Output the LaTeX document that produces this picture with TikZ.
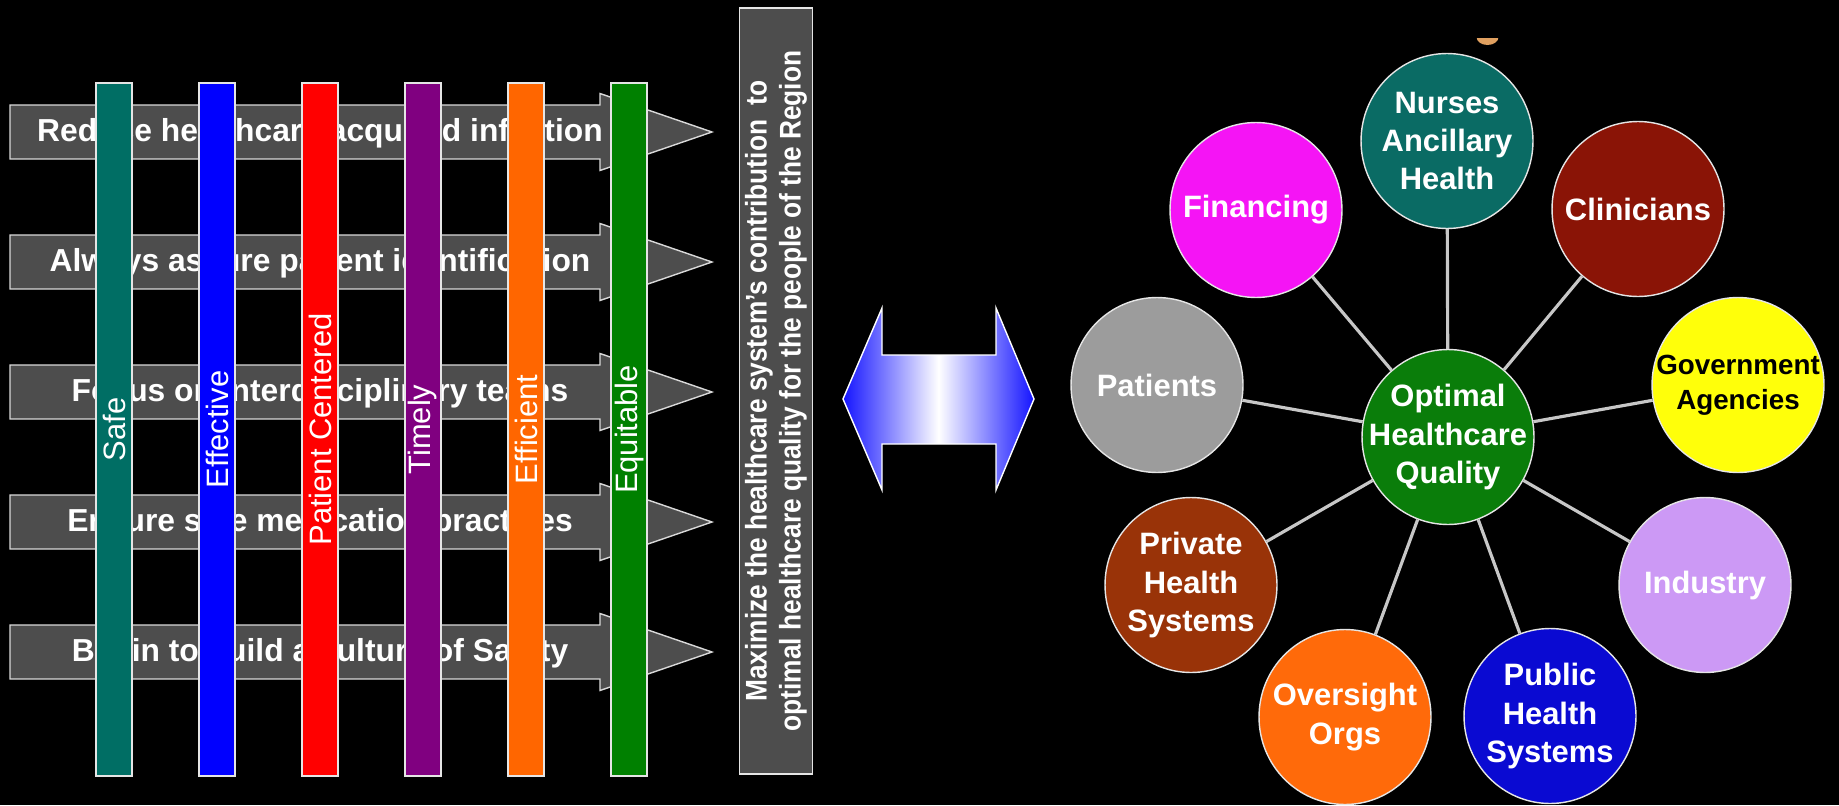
\documentclass[tikz,border=0pt]{standalone}
\usepackage{fontspec}
\setmainfont{Liberation Sans}
\newfontfamily\narrowsans[FakeStretch=0.88]{Liberation Sans}
\usetikzlibrary{shapes.geometric}

\definecolor{bandgray}{HTML}{4D4D4D}
\definecolor{safec}{HTML}{006E64}
\definecolor{effc}{HTML}{0000FF}
\definecolor{patc}{HTML}{FF0000}
\definecolor{timec}{HTML}{800080}
\definecolor{efficc}{HTML}{FF6600}
\definecolor{equc}{HTML}{008000}
\definecolor{arrowblue}{HTML}{1414FF}
\definecolor{hubc}{HTML}{0A7D0A}
\definecolor{nursec}{HTML}{0A6B64}
\definecolor{financec}{HTML}{F514F5}
\definecolor{clinc}{HTML}{8A1406}
\definecolor{patientc}{HTML}{9C9C9C}
\definecolor{govc}{HTML}{FFFF0A}
\definecolor{privc}{HTML}{993308}
\definecolor{indc}{HTML}{CC99F5}
\definecolor{overc}{HTML}{FF6A0A}
\definecolor{pubc}{HTML}{0A0AD2}
\definecolor{blobc}{HTML}{E0A060}

\begin{document}
\begin{tikzpicture}[
    x=0.02cm, y=-0.02cm,
    band/.style={draw=white!85!black, line width=0.8pt, fill=bandgray},
    bandtext/.style={text=white, font=\fontsize{18.1}{21}\selectfont\bfseries},
    pillar/.style={rectangle, rotate=90, draw=white!90!black, line width=0.8pt, minimum width=13.86cm, minimum height=0.72cm, inner sep=0pt, text=white, font=\fontsize{17.6}{21}\selectfont},
    goal/.style={rectangle, rotate=90, draw=white!90!black, line width=0.8pt, fill=bandgray, minimum width=15.32cm, minimum height=1.46cm, inner sep=0pt, align=center, text=white, font=\narrowsans\fontsize{17}{19.3}\selectfont\bfseries},
    actor/.style={ellipse, draw=white!80!gray, line width=0.8pt, minimum width=3.44cm, minimum height=3.5cm, inner sep=-2cm, align=center, text=white, font=\fontsize{17.6}{21.8}\selectfont\bfseries},
    spoke/.style={line width=1.8pt, draw=white!78!black}
]
\useasboundingbox[fill=black] (0,0) rectangle (1839,805);

\draw[band] (10,105) -- (600,105) -- (600,93.5) -- (712,132) -- (600,170.5) -- (600,159) -- (10,159) -- cycle;
\draw[band] (10,235) -- (600,235) -- (600,223.5) -- (712,262) -- (600,300.5) -- (600,289) -- (10,289) -- cycle;
\draw[band] (10,365) -- (600,365) -- (600,353.5) -- (712,392) -- (600,430.5) -- (600,419) -- (10,419) -- cycle;
\draw[band] (10,495) -- (600,495) -- (600,483.5) -- (712,522) -- (600,560.5) -- (600,549) -- (10,549) -- cycle;
\draw[band] (10,625) -- (600,625) -- (600,613.5) -- (712,652) -- (600,690.5) -- (600,679) -- (10,679) -- cycle;

\node[bandtext] (infection) at (320,133) {Reduce healthcare acquired infection};
\node[bandtext] (identity) at (320,263) {Always assure patient identification};
\node[bandtext] (teams) at (320,393) {Focus on interdisciplinary teams};
\node[bandtext] (medication) at (320,523) {Ensure safe medication practices};
\node[bandtext] (culture) at (320,653) {Begin to build a culture of Safety};

\node[pillar, fill=safec] (safe) at (114,429.5) {Safe};
\node[pillar, fill=effc] (effective) at (217,429.5) {Effective};
\node[pillar, fill=patc] (centered) at (320,429.5) {Patient Centered};
\node[pillar, fill=timec] (timely) at (423,429.5) {Timely};
\node[pillar, fill=efficc] (efficient) at (526,429.5) {Efficient};
\node[pillar, fill=equc] (equitable) at (629,429.5) {Equitable};

\node[goal] (aim) at (776,391) {Maximize the healthcare system’s contribution\ \ to\\optimal healthcare quality for the people of the Region};

\shadedraw[left color=arrowblue, right color=arrowblue, middle color=white, draw=white, line width=0.8pt] (843,399) -- (882,308) -- (882,355) -- (996,355) -- (996,308) -- (1034,399) -- (996,490) -- (996,444) -- (882,444) -- (882,490) -- cycle;

\begin{scope}
\clip (1470,38) rectangle (1506,52);
\fill[blobc] (1487.5,37) ellipse (11 and 8);
\end{scope}

\node[actor, fill=hubc] (hub) at (1448,437) {Optimal\\Healthcare\\Quality};
\node[actor, fill=nursec] (nurses) at (1447,141) {Nurses\\Ancillary\\Health};
\node[actor, fill=financec] (financing) at (1256,210) {Financing};
\node[actor, fill=clinc] (clinicians) at (1638,209) {Clinicians};
\node[actor, fill=patientc] (patients) at (1157,385) {Patients};
\node[actor, fill=govc, text=black, font=\fontsize{15.8}{19.8}\selectfont\bfseries] (agencies) at (1738,385) {Government\\Agencies};
\node[actor, fill=privc] (private) at (1191,585) {Private\\Health\\Systems};
\node[actor, fill=indc] (industry) at (1705,585) {Industry};
\node[actor, fill=overc] (oversight) at (1345,717) {Oversight\\Orgs};
\node[actor, fill=pubc] (public) at (1550,716) {Public\\Health\\Systems};

\draw[spoke] (hub) -- (nurses);
\draw[spoke] (hub) -- (financing);
\draw[spoke] (hub) -- (clinicians);
\draw[spoke] (hub) -- (patients);
\draw[spoke] (hub) -- (agencies);
\draw[spoke] (hub) -- (private);
\draw[spoke] (hub) -- (industry);
\draw[spoke] (hub) -- (oversight);
\draw[spoke] (hub) -- (public);
\end{tikzpicture}
\end{document}
